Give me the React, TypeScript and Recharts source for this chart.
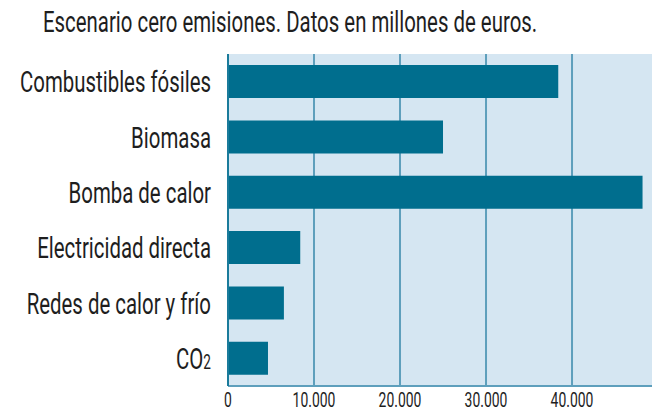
import { BarChart, Bar, XAxis, YAxis, CartesianGrid } from "recharts";

const categories = [
  "Combustibles fósiles",
  "Biomasa",
  "Bomba de calor",
  "Electricidad directa",
  "Redes de calor y frío",
  "CO2",
];
const values = [38400, 25000, 48200, 8400, 6500, 4650];
const xTicks = [0, 10000, 20000, 30000, 40000];
const title = "Escenario cero emisiones. Datos en millones de euros.";

const data = categories.map((name, i) => ({ name, value: values[i] }));

const FONT = "Roboto, sans-serif";
const TEXT = "#1e1e1e";
const SQUEEZE = 0.68;

const fmt = (v: number) => String(v).replace(/\B(?=(\d{3})+(?!\d))/g, ".");

function CatTick(props: any) {
  const { x, y, payload } = props;
  const label: string = payload.value;
  const isCO2 = label === "CO2";
  return (
    <g transform={`translate(${x - 15},${y + 10.5}) scale(${SQUEEZE},1)`}>
      <text textAnchor="end" fontFamily={FONT} fontSize={30} fill={TEXT}>
        {isCO2 ? (
          <>
            <tspan>CO</tspan>
            <tspan fontSize={20}>2</tspan>
          </>
        ) : (
          label
        )}
      </text>
    </g>
  );
}

function NumTick(props: any) {
  const { x, y, payload } = props;
  return (
    <g transform={`translate(${x},${y + 19}) scale(${SQUEEZE},1)`}>
      <text textAnchor="middle" fontFamily={FONT} fontSize={20.5} fill={TEXT}>
        {fmt(payload.value)}
      </text>
    </g>
  );
}

export default function App() {
  return (
    <div style={{ position: "absolute", left: 0, top: 0, width: 652, height: 411, background: "#fff" }}>
      <svg width={652} height={50} style={{ position: "absolute", left: 0, top: 0 }}>
        <g transform={`translate(43,32) scale(${SQUEEZE},1)`}>
          <text fontFamily={FONT} fontSize={30} fill={TEXT}>
            {title}
          </text>
        </g>
      </svg>
      <div style={{ position: "absolute", left: 0, top: 0 }}>
        <BarChart
          width={652}
          height={411}
          data={data}
          layout="vertical"
          margin={{ top: 54, right: 0, bottom: 0, left: 0 }}
          barCategoryGap="20%"
        >
          <CartesianGrid
            horizontal={false}
            fill="#d5e6f2"
            stroke="#5e9fbc"
            strokeWidth={2}
            verticalValues={xTicks}
          />
          <XAxis
            type="number"
            domain={[0, 49300]}
            ticks={xTicks}
            tickLine={false}
            tickSize={0}
            axisLine={{ stroke: "#5e9fbc", strokeWidth: 2 }}
            tick={<NumTick />}
            height={25}
            interval={0}
          />
          <XAxis
            xAxisId="top"
            orientation="top"
            type="number"
            domain={[0, 49300]}
            tick={false}
            tickLine={false}
            axisLine={{ stroke: "#1a7b9b", strokeWidth: 2 }}
            height={0}
          />
          <YAxis
            type="category"
            dataKey="name"
            width={228}
            tickLine={false}
            tickSize={0}
            axisLine={{ stroke: "#1a7b9b", strokeWidth: 2 }}
            tick={<CatTick />}
            interval={0}
          />
          <Bar dataKey="value" fill="#006e8e" isAnimationActive={false} />
        </BarChart>
      </div>
    </div>
  );
}
